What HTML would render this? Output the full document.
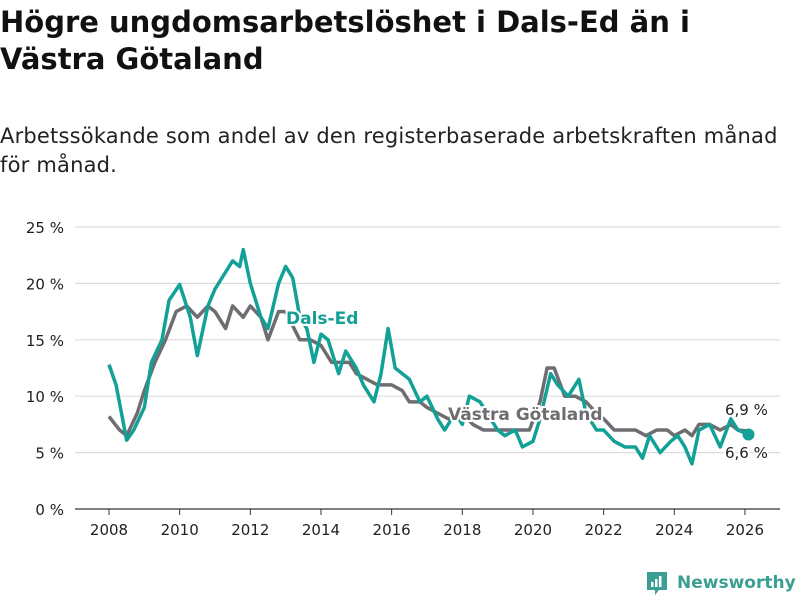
<!DOCTYPE html>
<html><head><meta charset="utf-8"><style>
body{margin:0;width:800px;height:600px;background:#fff;font-family:"DejaVu Sans","Liberation Sans",sans-serif;overflow:hidden;position:relative}
h1{position:absolute;left:0;top:4px;margin:0;font-size:29px;line-height:37px;font-weight:bold;color:#111;width:790px}
.sub{position:absolute;left:0;top:122px;font-size:21px;letter-spacing:0.2px;line-height:29px;color:#222;width:785px}
svg{position:absolute;left:0;top:0}
</style></head><body>
<h1>Högre ungdomsarbetslöshet i Dals-Ed än i Västra Götaland</h1>
<div class="sub">Arbetssökande som andel av den registerbaserade arbetskraften månad<br>för månad.</div>
<svg id="c" width="800" height="600"></svg>
<script>
const yTicks=[0,5,10,15,20,25];
const xTicks=[2008,2010,2012,2014,2016,2018,2020,2022,2024,2026];
const dalsT=[2008.0,2008.2,2008.5,2008.7,2009.0,2009.2,2009.5,2009.7,2010.0,2010.3,2010.5,2010.8,2011.0,2011.3,2011.5,2011.7,2011.8,2012.0,2012.3,2012.5,2012.8,2013.0,2013.2,2013.4,2013.6,2013.8,2014.0,2014.2,2014.5,2014.7,2015.0,2015.2,2015.5,2015.7,2015.9,2016.1,2016.5,2016.8,2017.0,2017.3,2017.5,2017.8,2018.0,2018.2,2018.5,2018.8,2019.0,2019.2,2019.5,2019.7,2020.0,2020.2,2020.5,2020.7,2021.0,2021.3,2021.5,2021.8,2022.0,2022.3,2022.6,2022.9,2023.1,2023.3,2023.6,2023.9,2024.1,2024.3,2024.5,2024.7,2025.0,2025.3,2025.6,2025.8,2026.1];
const dalsV=[12.8,11,6.1,7,9,13,15,18.5,19.9,17,13.6,18,19.5,21,22,21.5,23,20,17,16,20,21.5,20.5,17,16,13,15.5,15,12,14,12.5,11,9.5,12,16,12.5,11.5,9.5,10,8,7,8.5,7.5,10,9.5,8,7,6.5,7,5.5,6,8,12,11,10,11.5,8.5,7,7,6,5.5,5.5,4.5,6.5,5,6,6.5,5.5,4,7,7.5,5.5,8,7,6.6];
const vgT=[2008.0,2008.3,2008.5,2008.8,2009.0,2009.3,2009.6,2009.9,2010.2,2010.5,2010.8,2011.0,2011.3,2011.5,2011.8,2012.0,2012.3,2012.5,2012.8,2013.0,2013.4,2013.7,2014.0,2014.3,2014.5,2014.8,2015.0,2015.3,2015.6,2016.0,2016.3,2016.5,2016.8,2017.0,2017.3,2017.6,2018.0,2018.3,2018.6,2019.0,2019.5,2019.9,2020.2,2020.4,2020.6,2020.9,2021.2,2021.5,2021.8,2022.0,2022.3,2022.6,2022.9,2023.2,2023.5,2023.8,2024.0,2024.3,2024.5,2024.7,2025.0,2025.3,2025.6,2025.8,2026.1];
const vgV=[8.2,7,6.5,8.5,10.5,13,15,17.5,18,17,18,17.5,16,18,17,18,17,15,17.5,17.5,15,15,14.5,13,13,13,12,11.5,11,11,10.5,9.5,9.5,9,8.5,8,8.5,7.5,7,7,7,7,9.5,12.5,12.5,10,10,9.5,8.5,8,7,7,7,6.5,7,7,6.5,7,6.5,7.5,7.5,7,7.5,7,6.9];
const NS="http://www.w3.org/2000/svg",svg=document.getElementById('c');
const X=t=>109+(t-2008)*35.33, Y=v=>509-v*11.28;
function el(tag,attrs,txt){const e=document.createElementNS(NS,tag);for(const k in attrs)e.setAttribute(k,attrs[k]);if(txt!=null)e.textContent=txt;svg.appendChild(e);return e;}
yTicks.forEach(v=>{
 const g=el('line',{x1:75,x2:780,y1:Y(v),y2:Y(v),stroke:v===0?'#333':'#ddd','stroke-width':1.2});
 
 const t=el('text',{x:64,y:Y(v)+6,'text-anchor':'end','font-size':15,fill:'#222'},v+' %');
 
});
xTicks.forEach(v=>{
 const l=el('line',{x1:X(v),x2:X(v),y1:509,y2:515,stroke:'#333'});
 
 const t=el('text',{x:X(v),y:535,'text-anchor':'middle','font-size':15,fill:'#222'},v);
 
});
function line(T,V,col,name){const p=el('polyline',{points:T.map((t,i)=>X(t)+','+Y(V[i])).join(' '),fill:'none',stroke:col,'stroke-width':3.5,'stroke-linejoin':'round'});
 }
line(vgT,vgV,'#6e6d72','vastra-gotaland-line');
line(dalsT,dalsV,'#13a096','dals-ed-line');
const d=el('circle',{cx:X(dalsT[dalsT.length-1]),cy:Y(dalsV[dalsV.length-1]),r:6,fill:'#13a096'});

function lab(x,y,txt,col,name,fs,fw,anchor){const t=el('text',{x:x,y:y,'font-size':fs,'font-weight':fw,fill:col,stroke:'#fff','stroke-width':4,'paint-order':'stroke','text-anchor':anchor||'start'},txt);
 }
lab(286,324,'Dals-Ed','#13a096','dals-ed-label',17,'bold');
lab(448,420,'Västra Götaland','#6e6d72','vastra-gotaland-label',17,'bold');
lab(725,415,'6,9 %','#222','vg-end-value',15,'normal');
lab(725,458,'6,6 %','#222','dals-ed-end-value',15,'normal');
</script>
<div style="position:absolute;left:645px;top:570px;display:flex;align-items:center;color:#3a9e93;font-weight:bold;font-size:17px">
<svg width="24" height="26" style="position:static;margin-right:8px"><path d="M2 2h20v18h-8l-4 5v-5H2z" fill="#3a9e93"/><rect x="6" y="12" width="2.5" height="5" fill="#fff"/><rect x="10" y="9" width="2.5" height="8" fill="#fff"/><rect x="14" y="6" width="2.5" height="11" fill="#fff"/></svg>Newsworthy</div>
</body></html>
